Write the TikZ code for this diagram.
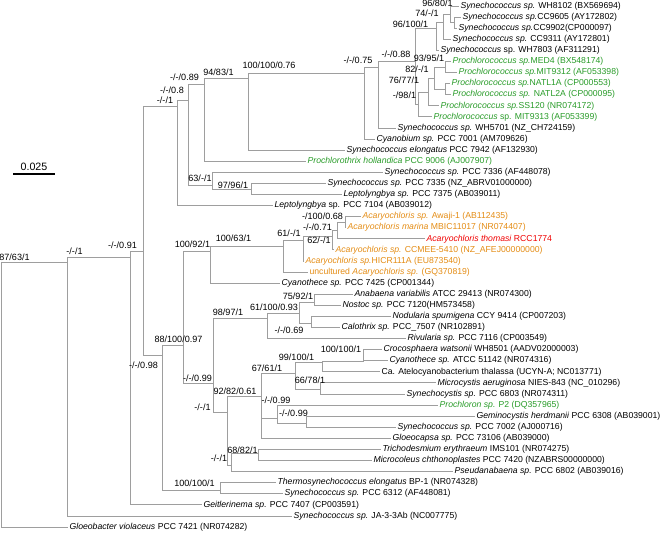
\documentclass[tikz,border=0pt]{standalone}
\usepackage{fontspec}
\setmainfont{Liberation Sans}
\usepackage{tikz}

\definecolor{treegray}{gray}{0.62}
\definecolor{progreen}{RGB}{40,155,40}
\definecolor{acaorange}{RGB}{228,140,20}
\definecolor{thored}{RGB}{240,0,0}

\tikzset{
  branch/.style={draw=treegray, line width=0.6pt},
  leaf/.style={anchor=west, inner sep=1pt, font=\fontsize{6.5}{7}\selectfont},
  supp/.style={inner sep=0pt, font=\fontsize{6.8}{7}\selectfont},
}

\begin{document}
\begin{tikzpicture}[x=0.75pt, y=-0.75pt]
  \def\dy{11.085}
  \useasboundingbox (0,0) rectangle (660,534);

  % taxa, top to bottom
  \foreach \i/\x/\col/\lab in {
    1/459/black/{\textit{Synechococcus sp.} WH8102 (BX569694)},
    2/461/black/{\textit{Synechococcus sp.}CC9605 (AY172802)},
    3/457/black/{\textit{Synechococcus sp.}CC9902(CP000097)},
    4/451/black/{\textit{Synechococcus sp.} CC9311 (AY172801)},
    5/439/black/{\textit{Synechococcus} sp. WH7803 (AF311291)},
    6/451/progreen/{\textit{Prochlorococcus sp.}MED4 (BX548174)},
    7/457/progreen/{\textit{Prochlorococcus sp.}MIT9312 (AF053398)},
    8/450/progreen/{\textit{Prochlorococcus sp.}NATL1A (CP000553)},
    9/451/progreen/{\textit{Prochlorococcus sp.} NATL2A (CP000095)},
    10/439/progreen/{\textit{Prochlorococcus sp.}SS120 (NR074172)},
    11/432/progreen/{\textit{Prochlorococcus} sp. MIT9313 (AF053399)},
    12/396/black/{\textit{Synechococcus sp.} WH5701 (NZ\_CH724159)},
    13/375/black/{\textit{Cyanobium sp.} PCC 7001 (AM709626)},
    14/345/black/{\textit{Synechococcus elongatus} PCC 7942 (AF132930)},
    15/306/progreen/{\textit{Prochlorothrix hollandica} PCC 9006 (AJ007907)},
    16/383/black/{\textit{Synechococcus sp.} PCC 7336 (AF448078)},
    17/326/black/{\textit{Synechococcus sp.} PCC 7335 (NZ\_ABRV01000000)},
    18/342/black/{\textit{Leptolyngbya sp.} PCC 7375 (AB039011)},
    19/273/black/{\textit{Leptolyngbya} sp. PCC 7104 (AB039012)},
    20/361/acaorange/{\textit{Acaryochloris sp.} Awaji-1 (AB112435)},
    21/346/acaorange/{\textit{Acaryochloris marina} MBIC11017 (NR074407)},
    22/425/thored/{\textit{Acaryochloris thomasi} RCC1774},
    23/334/acaorange/{\textit{Acaryochloris sp.} CCMEE-5410 (NZ\_AFEJ00000000)},
    24/304/acaorange/{\textit{Acaryochloris sp.}HICR111A (EU873540)},
    25/308/acaorange/{uncultured \textit{Acaryochloris sp.} (GQ370819)},
    26/280/black/{\textit{Cyanothece sp.} PCC 7425 (CP001344)},
    27/353/black/{\textit{Anabaena variabilis} ATCC 29413 (NR074300)},
    28/341/black/{\textit{Nostoc sp.} PCC 7120(HM573458)},
    29/391/black/{\textit{Nodularia spumigena} CCY 9414 (CP007203)},
    30/340/black/{\textit{Calothrix sp.} PCC\_7507 (NR102891)},
    31/406/black/{\textit{Rivularia sp.} PCC 7116 (CP003549)},
    32/382/black/{\textit{Crocosphaera watsonii} WH8501 (AADV02000003)},
    33/388/black/{\textit{Cyanothece sp.} ATCC 51142 (NR074316)},
    34/380/black/{Ca. Atelocyanobacterium thalassa (UCYN-A; NC013771)},
    35/436/black/{\textit{Microcystis aeruginosa} NIES-843 (NC\_010296)},
    36/405/black/{\textit{Synechocystis sp.} PCC 6803 (NR074311)},
    37/438/progreen/{\textit{Prochloron sp.} P2 (DQ357965)},
    38/475/black/{\textit{Geminocystis herdmanii} PCC 6308 (AB039001)},
    39/396/black/{\textit{Synechococcus sp.} PCC 7002 (AJ000716)},
    40/391/black/{\textit{Gloeocapsa sp.} PCC 73106 (AB039000)},
    41/381/black/{\textit{Trichodesmium erythraeum} IMS101 (NR074275)},
    42/372/black/{\textit{Microcoleus chthonoplastes} PCC 7420 (NZABRS00000000)},
    43/453/black/{\textit{Pseudanabaena sp.} PCC 6802 (AB039016)},
    44/276/black/{\textit{Thermosynechococcus elongatus} BP-1 (NR074328)},
    45/283/black/{\textit{Synechococcus sp.} PCC 6312 (AF448081)},
    46/202/black/{\textit{Geitlerinema sp.} PCC 7407 (CP003591)},
    47/292/black/{\textit{Synechococcus sp.} JA-3-3Ab (NC007775)},
    48/68/black/{\textit{Gloeobacter violaceus} PCC 7421 (NR074282)}} {
    \node[leaf, text=\col] (l\i) at (\x, {6+(\i-1)*\dy}) {\lab};
  }

  % inner nodes
  \foreach \n/\x/\y in {R/1/262, A/67/262, B/130/257, C/143/251, D/177/106,
      F/188/100, G/204/84, J/248/78, K/364/73, nL/378/67, Q/415/61,
      S/436/28, X/443/22, Na/450/14, Nb/454/22,
      Pe/418/104, Pd/428/92, Pc/434/78, Pa/445/67, Pb/445/89,
      H/212/185, I/251/189,
      E/162/355, V/183/345, T/210/251, nSi/283/246, nHi/303/240,
      nCc/332/236, nTh/337/230, nAw/345/222,
      W/213/383, nNf/267/318, nNo/299/313, nAn/314/302, nCa/311/323,
      nCh/227/412, nCr/261/396, nMi/295/373, nCy/322/362, nCw/363/361,
      nSy/320/389, nPn/277/418, nGe/306/423,
      nTr/231/465, nTm/258/453, U/220/490}
    \coordinate (\n) at (\x,\y);

  % branches
  \foreach \p/\q in {R/A, R/l48, A/B, A/l47, B/C, B/l46, C/D, C/E,
      D/F, D/l19, F/G, F/H, G/J, G/l15, J/K, J/l14, K/nL, K/l13,
      nL/Q, nL/l12, Q/S, Q/Pe, S/X, S/l5, X/Na, X/l4,
      Na/l1, Na/Nb, Nb/l2, Nb/l3,
      Pe/Pd, Pe/l11, Pd/Pc, Pd/l10, Pc/Pa, Pc/Pb,
      Pa/l6, Pa/l7, Pb/l8, Pb/l9,
      H/l16, H/I, I/l17, I/l18,
      E/V, E/U, V/T, V/W, T/nSi, T/l26,
      nSi/nHi, nSi/l25, nHi/nCc, nHi/l24, nCc/nTh, nCc/l23,
      nTh/nAw, nTh/l22, nAw/l20, nAw/l21,
      W/nNf, W/nCh, nNf/nNo, nNf/l31, nNo/nAn, nNo/nCa,
      nAn/l27, nAn/l28, nCa/l29, nCa/l30,
      nCh/nCr, nCh/nTr, nCr/nMi, nCr/nPn, nCr/l40,
      nMi/nCy, nMi/nSy, nCy/nCw, nCy/l34, nCw/l32, nCw/l33,
      nSy/l35, nSy/l36, nPn/l37, nPn/nGe, nGe/l38, nGe/l39,
      nTr/nTm, nTr/l43, nTm/l41, nTm/l42, U/l44, U/l45}
    \draw[branch] (\p) |- (\q);

  % support values
  \node[supp] (sR) at (14.5,257) {87/63/1};
  \node[supp] (sA) at (74.5,251) {-/-/1};
  \node[supp] (sB) at (122.5,245) {-/-/0.91};
  \node[supp] (sD) at (165,100) {-/-/1};
  \node[supp] (sF) at (172,90) {-/-/0.8};
  \node[supp] (sG) at (184.5,77) {-/-/0.89};
  \node[supp] (sJ) at (218.5,72) {94/83/1};
  \node[supp] (sK) at (269,65) {100/100/0.76};
  \node[supp] (sL) at (358,60) {-/-/0.75};
  \node[supp] (sQ) at (396,54) {-/-/0.88};
  \node[supp] (sS) at (410.5,24) {96/100/1};
  \node[supp] (sX) at (427,13) {74/-/1};
  \node[supp] (sN) at (437.5,3) {96/80/1};
  \node[supp] (sPa) at (429,58) {93/95/1};
  \node[supp] (sPc) at (417,69) {82/-/1};
  \node[supp] (sPd) at (404,80) {76/77/1};
  \node[supp] (sPe) at (404.5,95) {-/98/1};
  \node[supp] (sH) at (200,178) {63/-/1};
  \node[supp] (sI) at (233,185) {97/96/1};
  \node[supp] (sAw) at (322.5,216) {-/100/0.68};
  \node[supp] (sTh) at (317.5,227) {-/-/0.71};
  \node[supp] (sCc) at (319,240) {62/-/1};
  \node[supp] (sHi) at (289,233) {61/-/1};
  \node[supp] (sSi) at (233.5,238) {100/63/1};
  \node[supp] (sT) at (192.5,244) {100/92/1};
  \node[supp] (sE) at (143.5,365) {-/-/0.98};
  \node[supp] (sV) at (178.5,339) {88/100/0.97};
  \node[supp] (sNf) at (228,312) {98/97/1};
  \node[supp] (sNo) at (274,307) {61/100/0.93};
  \node[supp] (sAn) at (298,296) {75/92/1};
  \node[supp] (sCa) at (289,330) {-/-/0.69};
  \node[supp] (sW) at (197.5,378) {-/-/0.99};
  \node[supp] (sCh) at (202.5,407) {-/-/1};
  \node[supp] (sCr) at (235,391) {92/82/0.61};
  \node[supp] (sMi) at (267,368) {67/61/1};
  \node[supp] (sCy) at (296.5,357) {99/100/1};
  \node[supp] (sCw) at (341,349) {100/100/1};
  \node[supp] (sSy) at (310,380) {66/78/1};
  \node[supp] (sPn) at (276,400) {-/-/0.99};
  \node[supp] (sGe) at (293.5,413) {-/-/0.99};
  \node[supp] (sTm) at (242.5,450) {68/82/1};
  \node[supp] (sTr) at (219,458) {-/-/1};
  \node[supp] (sU) at (194.5,483) {100/100/1};

  % scale bar
  \node[supp, font=\fontsize{8}{9}\selectfont] (scale) at (34,167) {0.025};
  \coordinate (sca) at (13,174);
  \coordinate (scb) at (55,174);
  \draw[line width=0.9pt] (sca) -- (scb);
\end{tikzpicture}
\end{document}
